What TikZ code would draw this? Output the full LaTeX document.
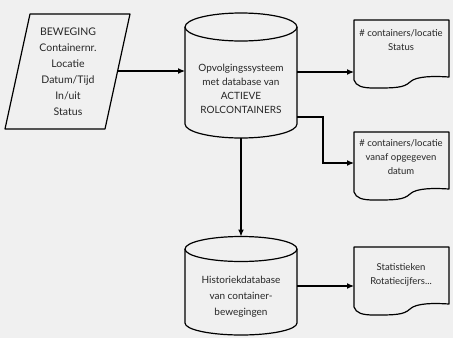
\documentclass[tikz,border=0pt]{standalone}
\usepackage{fontspec}
\setmainfont{Lato}
\usetikzlibrary{arrows.meta}
\begin{document}
\begin{tikzpicture}[x=1pt,y=-1pt,
  shp/.style={line width=1.2pt, line join=round},
  conn/.style={line width=1.2pt, -{Latex[length=7pt,width=6pt]}},
  lbl/.style={font=\fontsize{9.5}{14}\selectfont, align=center, inner sep=0pt, text=black!85},
  docpic/.pic={
    \draw[shp] (0,0) -- (95,0) -- (95,57)
      .. controls (80,56) and (62,56) .. (56,62)
      .. controls (50,68) and (40,68) .. (20,68)
      .. controls (8,68) and (2,66) .. (0,60) -- cycle;
  }
]
\fill[black!6] (0,0) rectangle (453,338);
\useasboundingbox (0,0) rectangle (453,338);

% input parallelogram
\draw[shp] (30,14) -- (130,14) -- (105,129) -- (5,129) -- cycle;
\node[lbl, font=\fontsize{10.5}{16}\selectfont] (inp) at (68,72)
  {BEWEGING\\Containernr.\\Locatie\\Datum/Tijd\\In/uit\\Status};
\coordinate (inpr) at (117.6,71);

% cylinder 1
\draw[shp] (185,27) -- (185,124) arc[start angle=180, end angle=0, x radius=56, y radius=14] -- (297,27);
\draw[shp] (241,27) ellipse[x radius=56, y radius=14];
\node[lbl, font=\fontsize{10}{14}\selectfont] (db1) at (241,89)
  {Opvolgingssysteem\\met database van\\ACTIEVE\\ROLCONTAINERS};
\coordinate (db1l) at (185,71);
\coordinate (db1r1) at (297,72);
\coordinate (db1r2) at (297,117);
\coordinate (db1b) at (241,138);
\coordinate (bend) at (323,117);

% cylinder 2
\draw[shp] (185,249) -- (185,323) arc[start angle=180, end angle=0, x radius=56, y radius=12] -- (297,249);
\draw[shp] (241,249) ellipse[x radius=56, y radius=12.5];
\node[lbl, font=\fontsize{10}{16}\selectfont] (db2) at (241,297)
  {Historiekdatabase\\van container-\\bewegingen};
\coordinate (db2t) at (241,236.5);
\coordinate (db2r) at (297,286);

% documents
\pic at (354,20) {docpic};
\node[lbl] (doc1) at (401,40) {\# containers/locatie\\Status};
\coordinate (doc1l) at (354,72);

\pic at (354,132) {docpic};
\node[lbl] (doc2) at (401,157) {\# containers/locatie\\vanaf opgegeven\\datum};
\coordinate (doc2l) at (354,163);

\pic at (354,247) {docpic};
\node[lbl] (doc3) at (401,275) {Statistieken\\Rotatiecijfers...};
\coordinate (doc3l) at (354,286);

% connectors
\draw[conn] (inpr) -- (db1l);
\draw[conn] (db1r1) -- (doc1l);
\draw[conn] (db1r2) -- (bend) |- (doc2l);
\draw[conn] (db1b) -- (db2t);
\draw[conn] (db2r) -- (doc3l);
\end{tikzpicture}
\end{document}
